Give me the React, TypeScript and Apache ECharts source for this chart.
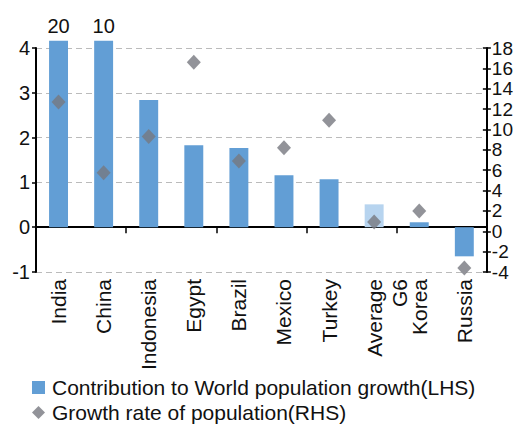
import React, { useEffect, useRef } from "react";
import * as echarts from "echarts";

const categories = ["India", "China", "Indonesia", "Egypt", "Brazil", "Mexico", "Turkey", "\nAverage\nG6", "Korea", "Russia"];
const contribution = [20, 10, 2.84, 1.83, 1.77, 1.16, 1.07, 0.51, 0.11, -0.65];
const growthRate = [12.7, 5.75, 9.3, 16.6, 6.9, 8.2, 10.9, 0.9, 2.0, -3.6];
const leftTicks = { min: -1, max: 4, interval: 1 };
const rightTicks = { min: -4, max: 18, interval: 2 };
const barCap = 4.16;

const FONT = "Liberation Sans, Arial, sans-serif";
const NARROW = "Liberation Sans Narrow, Arial Narrow, Liberation Sans, sans-serif";
const BLUE = "#629ED5";
const LIGHT = "#B7D4EF";
const GREY = "#77787F";

export default function App() {
  const ref = useRef<HTMLDivElement>(null);
  useEffect(() => {
    if (!ref.current) return;
    const chart = echarts.init(ref.current, undefined, { renderer: "svg" });
    const barData = contribution.map((v, i) => ({
      value: Math.min(v, barCap),
      itemStyle: { color: i === 7 ? LIGHT : BLUE },
      label: { show: v > barCap, formatter: String(v) },
    }));
    chart.setOption({
      animation: false,
      textStyle: { fontFamily: FONT },
      grid: { left: 36, right: 29, top: 48, bottom: 153, containLabel: false },
      legend: {
        orient: "vertical",
        left: 32,
        top: 377,
        padding: 0,
        itemWidth: 13,
        itemHeight: 13,
        itemGap: 4,
        textStyle: { fontSize: 21, lineHeight: 21, color: "#111", fontFamily: FONT, padding: [0, 0, 0, 2] },
        data: [
          { name: "Contribution to World population growth(LHS)", icon: "rect" },
          { name: "Growth rate of population(RHS)", icon: "diamond", itemStyle: { color: GREY } },
        ],
      },
      xAxis: [
        {
          type: "category",
          data: categories,
          axisLine: { onZero: true, lineStyle: { color: "#000", width: 2 } },
          axisTick: { show: true, length: 6, lineStyle: { color: "#000", width: 1.5 } },
          axisLabel: { show: false },
        },
        {
          type: "category",
          data: categories,
          position: "bottom",
          axisLine: { show: false, onZero: false },
          axisTick: { show: false },
          axisLabel: {
            interval: 0,
            rotate: 90,
            margin: 7,
            fontSize: 21,
            lineHeight: 25,
            color: "#111",
            fontFamily: FONT,
          },
        },
      ],
      yAxis: [
        {
          type: "value",
          ...leftTicks,
          axisLine: { show: true, lineStyle: { color: "#000", width: 2 } },
          axisTick: { show: true, length: 4, lineStyle: { color: "#000", width: 1.5 } },
          axisLabel: { fontSize: 20, color: "#111", margin: 6, fontFamily: FONT },
          splitLine: { show: true, lineStyle: { color: "#BBBBBB", type: [6, 4], width: 1 } },
        },
        {
          type: "value",
          position: "right",
          ...rightTicks,
          axisLine: { show: true, onZero: false, lineStyle: { color: "#000", width: 2 } },
          axisTick: { show: true, length: 4, lineStyle: { color: "#000", width: 1.5 } },
          axisLabel: { fontSize: 19, color: "#111", margin: 5, fontFamily: NARROW },
          splitLine: { show: false },
        },
        {
          type: "value",
          position: "right",
          ...rightTicks,
          axisLine: { show: false, onZero: false },
          axisTick: { show: true, inside: true, length: 4, lineStyle: { color: "#000", width: 1.5 } },
          axisLabel: { show: false },
          splitLine: { show: false },
        },
      ],
      series: [
        {
          name: "Contribution to World population growth(LHS)",
          type: "bar",
          xAxisIndex: 0,
          yAxisIndex: 0,
          barWidth: "42%",
          itemStyle: { color: BLUE },
          clip: false,
          label: { position: "top", fontSize: 20, color: "#111", distance: 5, fontFamily: FONT },
          data: barData,
        },
        {
          name: "Growth rate of population(RHS)",
          type: "scatter",
          xAxisIndex: 0,
          yAxisIndex: 1,
          symbol: "diamond",
          symbolSize: [14, 15],
          itemStyle: { color: GREY },
          z: 5,
          data: growthRate,
        },
      ],
    });
    return () => chart.dispose();
  }, []);
  return <div ref={ref} style={{ width: 516, height: 425, position: "absolute", left: 0, top: 0 }} />;
}
